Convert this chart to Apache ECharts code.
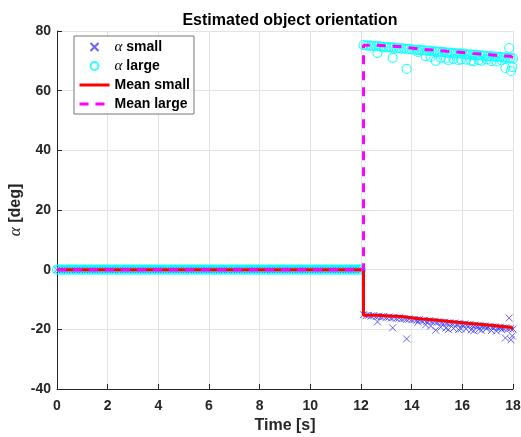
<!DOCTYPE html>
<html>
<head>
<meta charset="utf-8">
<script src="https://cdn.jsdelivr.net/npm/echarts@6/dist/echarts.min.js"></script>
<style>
  html, body { margin: 0; padding: 0; background: #fff; }
  #main { width: 521px; height: 437px; }
</style>
</head>
<body>
<div id="main"></div>
<script>
// samples before the switch (both estimates sit at 0)
var timesBefore = [0, 0.1, 0.2, 0.3, 0.4, 0.5, 0.6, 0.7, 0.8, 0.9, 1, 1.1, 1.2, 1.3, 1.4, 1.5, 1.6, 1.7, 1.8, 1.9,
  2, 2.1, 2.2, 2.3, 2.4, 2.5, 2.6, 2.7, 2.8, 2.9, 3, 3.1, 3.2, 3.3, 3.4, 3.5, 3.6, 3.7, 3.8, 3.9,
  4, 4.1, 4.2, 4.3, 4.4, 4.5, 4.6, 4.7, 4.8, 4.9, 5, 5.1, 5.2, 5.3, 5.4, 5.5, 5.6, 5.7, 5.8, 5.9,
  6, 6.1, 6.2, 6.3, 6.4, 6.5, 6.6, 6.7, 6.8, 6.9, 7, 7.1, 7.2, 7.3, 7.4, 7.5, 7.6, 7.7, 7.8, 7.9,
  8, 8.1, 8.2, 8.3, 8.4, 8.5, 8.6, 8.7, 8.8, 8.9, 9, 9.1, 9.2, 9.3, 9.4, 9.5, 9.6, 9.7, 9.8, 9.9,
  10, 10.1, 10.2, 10.3, 10.4, 10.5, 10.6, 10.7, 10.8, 10.9, 11, 11.1, 11.2, 11.3, 11.4, 11.5, 11.6, 11.7, 11.8, 11.9, 12];
var valuesBefore = [0, 0, 0, 0, 0, 0, 0, 0, 0, 0, 0, 0, 0, 0, 0, 0, 0, 0, 0, 0,
  0, 0, 0, 0, 0, 0, 0, 0, 0, 0, 0, 0, 0, 0, 0, 0, 0, 0, 0, 0,
  0, 0, 0, 0, 0, 0, 0, 0, 0, 0, 0, 0, 0, 0, 0, 0, 0, 0, 0, 0,
  0, 0, 0, 0, 0, 0, 0, 0, 0, 0, 0, 0, 0, 0, 0, 0, 0, 0, 0, 0,
  0, 0, 0, 0, 0, 0, 0, 0, 0, 0, 0, 0, 0, 0, 0, 0, 0, 0, 0, 0,
  0, 0, 0, 0, 0, 0, 0, 0, 0, 0, 0, 0, 0, 0, 0, 0, 0, 0, 0, 0, 0];

// samples after the switch, main band
var timesAfter = [12.1, 12.2, 12.3, 12.4, 12.5, 12.6, 12.7, 12.8, 12.9, 13.0,
  13.1, 13.2, 13.3, 13.4, 13.5, 13.6, 13.7, 13.8, 13.9, 14.0,
  14.1, 14.2, 14.3, 14.4, 14.5, 14.6, 14.7, 14.8, 14.9, 15.0,
  15.1, 15.2, 15.3, 15.4, 15.5, 15.6, 15.7, 15.8, 15.9, 16.0,
  16.1, 16.2, 16.3, 16.4, 16.5, 16.6, 16.7, 16.8, 16.9, 17.0,
  17.1, 17.2, 17.3, 17.4, 17.5, 17.6, 17.7, 17.8, 17.9, 18.0];
var alphaSmall = [-15.1, -15.4, -15.3, -15.5, -15.4, -15.7, -15.6, -15.8, -15.7, -16.0,
  -15.9, -16.2, -16.0, -16.3, -16.2, -16.5, -16.4, -16.6, -16.5, -16.8,
  -16.7, -16.9, -16.8, -17.1, -17.0, -17.3, -17.1, -17.4, -17.3, -17.6,
  -17.5, -17.7, -17.6, -17.9, -17.8, -18.1, -17.9, -18.2, -18.1, -18.4,
  -18.2, -18.5, -18.4, -18.7, -18.6, -18.8, -18.7, -19.0, -18.9, -19.2,
  -19.0, -19.3, -19.2, -19.5, -19.3, -19.6, -19.5, -19.8, -19.7, -19.9];
var alphaLarge = [75.3, 75.1, 75.2, 75.0, 75.0, 74.8, 74.9, 74.7, 74.7, 74.5,
  74.6, 74.4, 74.4, 74.2, 74.3, 74.1, 74.1, 73.9, 74.0, 73.8,
  73.8, 73.6, 73.7, 73.5, 73.5, 73.3, 73.4, 73.2, 73.2, 73.0,
  73.1, 72.9, 72.9, 72.7, 72.8, 72.6, 72.6, 72.4, 72.5, 72.3,
  72.3, 72.1, 72.2, 72.0, 72.0, 71.8, 71.9, 71.7, 71.7, 71.5,
  71.6, 71.4, 71.4, 71.2, 71.3, 71.1, 71.1, 70.9, 71.0, 70.8];

// samples after the switch, scattered off the band
var outlierTimes = [12.65, 13.25, 13.8, 14.25, 14.55, 14.75, 14.95, 15.15, 15.35, 15.45, 15.65, 15.85, 15.95,
  16.15, 16.35, 16.45, 16.65, 16.75, 16.95, 17.15, 17.35, 17.55, 17.7, 17.85, 17.92, 17.97];
var outlierSmall = [-17.5, -19.5, -23.2, -17.6, -18.5, -18.9, -20.3, -19.3, -19.6, -20.1, -19.7, -20.1, -19.8,
  -19.9, -20.2, -20.5, -20.0, -20.3, -19.8, -20.4, -20.6, -20.1, -22.9, -16.2, -23.5, -22.2];
var outlierLarge = [72.6, 71.0, 67.3, 73.0, 71.6, 71.3, 70.0, 71.0, 70.7, 70.2, 70.6, 70.2, 70.5,
  70.4, 70.1, 69.8, 70.3, 70.0, 70.5, 69.9, 69.8, 70.2, 67.6, 74.3, 66.6, 67.9];

// running means (staircase)
var meanTimes = [0, 12.1, 12.6, 13.1, 13.6, 13.9, 14.4, 14.9, 15.4, 15.9, 16.4, 16.9, 17.4, 17.9, 18.0];
var meanSmall = [0, -15.3, -15.5, -15.7, -16.0, -16.5, -16.9, -17.3, -17.7, -18.1, -18.5, -18.9, -19.3, -19.8, -19.8];
var meanLarge = [0, 75.2, 75.0, 74.7, 74.4, 73.9, 73.6, 73.2, 72.9, 72.5, 72.2, 71.8, 71.5, 71.1, 71.1];

function pairs(xs, ys) {
  var out = [];
  for (var i = 0; i < xs.length; i++) out.push([xs[i], ys[i]]);
  return out;
}

var chart = echarts.init(document.getElementById('main'));
var font = "'Liberation Sans', Arial, sans-serif";
var dark = '#262626';
var greek = "'Liberation Serif', serif";

var option = {
  animation: false,
  backgroundColor: '#fff',
  title: {
    text: 'Estimated object orientation',
    left: 285,
    textAlign: 'center',
    top: 8,
    textStyle: { fontFamily: font, fontSize: 16, fontWeight: 'bold', color: '#000' }
  },
  grid: { left: 57, right: 8, top: 31, bottom: 48, outerBoundsMode: 'none' },
  legend: {
    orient: 'vertical',
    left: 74,
    top: 36,
    padding: [3, 4, 2, 4],
    itemWidth: 30,
    itemHeight: 8,
    itemGap: 3,
    backgroundColor: '#fff',
    borderColor: '#777',
    borderWidth: 1,
    borderRadius: 0,
    data: [
      { name: 'α small' },
      { name: 'α large' },
      { name: 'Mean small', itemStyle: { opacity: 0 }, lineStyle: { width: 3 } },
      { name: 'Mean large', itemStyle: { opacity: 0 }, lineStyle: { width: 3 } }
    ],
    formatter: function (name) {
      return name.replace('α', '{a|α}');
    },
    textStyle: {
      fontFamily: font, fontSize: 14, fontWeight: 'bold', color: '#000', lineHeight: 16,
      rich: {
        a: { fontFamily: greek, fontStyle: 'italic', fontWeight: 'normal', fontSize: 15, color: '#000' }
      }
    }
  },
  xAxis: {
    type: 'value',
    min: 0, max: 18, interval: 2,
    name: 'Time [s]',
    nameLocation: 'middle',
    nameGap: 22,
    nameTextStyle: { fontFamily: font, fontSize: 16, fontWeight: 'bold', color: dark },
    axisLine: { onZero: false, lineStyle: { color: dark, width: 1 } },
    axisTick: { inside: true, length: 5, lineStyle: { color: dark } },
    axisLabel: { fontFamily: font, fontSize: 14, fontWeight: 'bold', color: dark, margin: 10 },
    splitLine: { show: true, lineStyle: { color: '#e3e3e3', width: 1 } }
  },
  yAxis: {
    type: 'value',
    min: -40, max: 80, interval: 20,
    name: '{a|α} [deg]',
    nameLocation: 'middle',
    nameGap: 33,
    nameMoveOverlap: false,
    nameRotate: 90,
    nameTextStyle: {
      fontFamily: font, fontSize: 16, fontWeight: 'bold', color: dark,
      rich: {
        a: { fontFamily: greek, fontStyle: 'italic', fontWeight: 'normal', fontSize: 17, color: dark }
      }
    },
    axisLine: { show: true, onZero: false, lineStyle: { color: dark, width: 1 } },
    axisTick: { show: true, inside: true, length: 5, lineStyle: { color: dark } },
    axisLabel: { fontFamily: font, fontSize: 14, fontWeight: 'bold', color: dark, margin: 6 },
    splitLine: { show: true, lineStyle: { color: '#e3e3e3', width: 1 } }
  },
  series: [
    {
      name: 'α small',
      type: 'scatter',
      symbol: 'path://M0,0L10,10M0,10L10,0',
      symbolSize: 7,
      itemStyle: { color: 'transparent', borderColor: '#3c3cff', borderWidth: 1 },
      data: pairs(timesBefore, valuesBefore)
        .concat(pairs(timesAfter, alphaSmall))
        .concat(pairs(outlierTimes, outlierSmall)),
      z: 1
    },
    {
      name: 'α large',
      type: 'scatter',
      symbol: 'circle',
      symbolSize: 9,
      itemStyle: { color: 'transparent', borderColor: '#00ffff', borderWidth: 1.2 },
      data: pairs(timesBefore, valuesBefore)
        .concat(pairs(timesAfter, alphaLarge))
        .concat(pairs(outlierTimes, outlierLarge)),
      z: 2
    },
    {
      name: 'Mean small',
      type: 'line',
      step: 'end',
      symbol: 'none',
      lineStyle: { color: '#ff0000', width: 3 },
      itemStyle: { color: '#ff0000' },
      data: pairs(meanTimes, meanSmall),
      z: 3
    },
    {
      name: 'Mean large',
      type: 'line',
      step: 'end',
      symbol: 'none',
      lineStyle: { color: '#ff00ff', width: 3, type: [9, 7] },
      itemStyle: { color: '#ff00ff' },
      data: pairs(meanTimes, meanLarge),
      z: 4
    }
  ]
};

chart.setOption(option);
</script>
</body>
</html>
